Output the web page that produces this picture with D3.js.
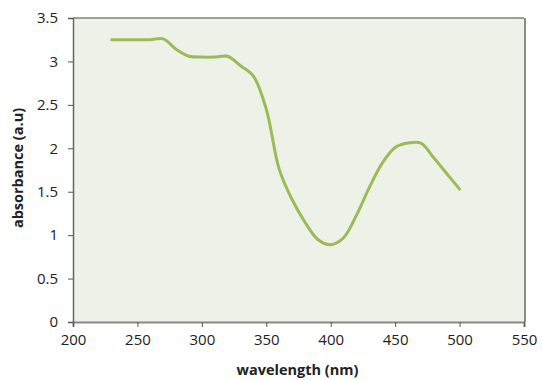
<!DOCTYPE html>
<html>
<head>
<meta charset="utf-8">
<script src="https://cdn.jsdelivr.net/npm/d3@7"></script>
<style>
  body { margin: 0; background: #fff; }
  text { font-family: "Open Sans", "Liberation Sans", sans-serif; fill: #222; }
</style>
</head>
<body>
<div id="chart"></div>
<script>
// spectrum
var wavelength = [230, 240, 250, 260, 270, 280, 290, 300, 310, 320, 330, 340, 350, 360,
                  370, 380, 390, 400, 410, 420, 430, 440, 450, 460, 470, 480, 490, 500];
var absorbance = [3.25, 3.25, 3.25, 3.25, 3.26, 3.14, 3.06, 3.05, 3.05, 3.06, 2.95, 2.83, 2.45, 1.76,
                  1.41, 1.15, 0.95, 0.89, 0.97, 1.23, 1.55, 1.83, 2.01, 2.06, 2.06, 1.89, 1.71, 1.53];
var xTicks = [200, 250, 300, 350, 400, 450, 500, 550];
var yTicks = [0, 0.5, 1, 1.5, 2, 2.5, 3, 3.5];

var width = 542, height = 380;
var margin = {top: 18, right: 18, bottom: 58, left: 73};

var svg = d3.select("#chart").append("svg")
    .attr("width", width)
    .attr("height", height);

var x = d3.scaleLinear().domain([200, 550]).range([margin.left, width - margin.right]);
var y = d3.scaleLinear().domain([0, 3.5]).range([height - margin.bottom, margin.top]);

// plot area
svg.append("rect")
    .attr("x", x(200))
    .attr("y", y(3.5))
    .attr("width", x(550) - x(200))
    .attr("height", y(0) - y(3.5))
    .attr("fill", "#eef1e8");

// frame: dark top, grey right
svg.append("line")
    .attr("x1", x(200)).attr("x2", x(550))
    .attr("y1", y(3.5)).attr("y2", y(3.5))
    .attr("stroke", "#444").attr("stroke-width", 1);
svg.append("line")
    .attr("x1", x(550) + 1).attr("x2", x(550) + 1)
    .attr("y1", y(3.5)).attr("y2", y(0))
    .attr("stroke", "#8a8a8a").attr("stroke-width", 2);

var data = wavelength.map(function(d, i) { return [d, absorbance[i]]; });

var line = d3.line()
    .x(function(d) { return x(d[0]); })
    .y(function(d) { return y(d[1]); })
    .curve(d3.curveCatmullRom.alpha(0.5));

svg.append("path")
    .datum(data)
    .attr("d", line)
    .attr("fill", "none")
    .attr("stroke", "#9bbb59")
    .attr("stroke-width", 3)
    .attr("stroke-linecap", "round");

// axes
var xAxis = svg.append("g")
    .attr("transform", "translate(0," + y(0) + ")")
    .call(d3.axisBottom(x).tickValues(xTicks).tickSize(5).tickFormat(d3.format("d")));
var yAxis = svg.append("g")
    .attr("transform", "translate(" + x(200) + ",0)")
    .call(d3.axisLeft(y).tickValues(yTicks).tickSize(5).tickFormat(function(d) { return d; }));

xAxis.select(".domain").attr("stroke", "#888").attr("stroke-width", 2);
yAxis.select(".domain").attr("stroke", "#666").attr("stroke-width", 1.5);
xAxis.selectAll(".tick line").attr("stroke", "#555");
yAxis.selectAll(".tick line").attr("stroke", "#555");
xAxis.selectAll(".tick text")
    .attr("dy", "1.0em")
    .style("font-size", "15px").style("font-family", "Open Sans, sans-serif").attr("fill", "#222");
yAxis.selectAll(".tick text")
    .attr("x", -15)
    .style("font-size", "15px").style("font-family", "Open Sans, sans-serif").attr("fill", "#222");

// titles (kept just inside the bottom edge)
svg.append("text")
    .attr("x", (x(200) + x(550)) / 2 - 1)
    .attr("y", 375)
    .attr("text-anchor", "middle")
    .style("font-size", "14.5px")
    .style("font-weight", "bold")
    .text("wavelength (nm)");

svg.append("text")
    .attr("transform", "translate(23," + ((y(0) + y(3.5)) / 2 - 2) + ")rotate(-90)")
    .attr("text-anchor", "middle")
    .style("font-size", "14.5px")
    .style("font-weight", "bold")
    .text("absorbance (a.u)");
</script>
</body>
</html>
